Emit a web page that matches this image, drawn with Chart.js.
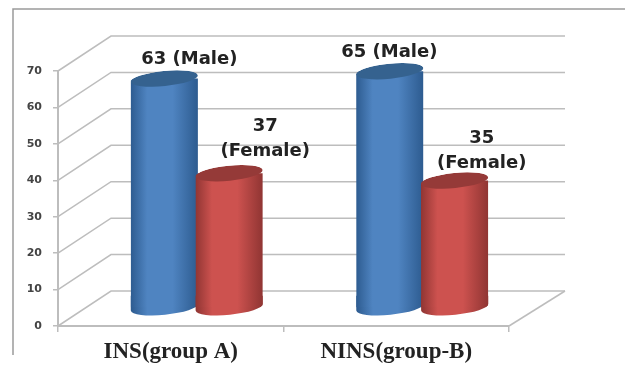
<!DOCTYPE html>
<html>
<head>
<meta charset="utf-8">
<style>
html,body{margin:0;padding:0;background:#fff}
canvas{display:block;filter:blur(0.55px)}
</style>
<script src="https://cdn.jsdelivr.net/npm/chart.js@4/dist/chart.umd.min.js"></script>
</head>
<body>
<canvas id="c" width="625" height="365"></canvas>
<script>
const categories = ["INS(group A)", "NINS(group-B)"];
const maleValues = [63, 65];
const femaleValues = [37, 35];
const maleLabels = [["63 (Male)"], ["65 (Male)"]];
const femaleLabels = [["37", "(Female)"], ["35", "(Female)"]];
const yTicks = [0, 10, 20, 30, 40, 50, 60, 70];

// Depth of the pseudo-3D box and placement of the cylinders inside it
const DEPTH = {dx: 53, dy: -35};
const BAR_SHIFT = {dx: 26, dy: -18};
const BAR_SPACING = 32.4;
const ELLIPSE_RY = 7.5, TILT = -0.1;
const GRID = "#bdbdbd";
// Label anchor offsets from each bar's top, [dataset][category] -> [dx, dy of first line]
const LABEL_OFFSETS = [[[25, -19], [-0.5, -19]], [[36, -47], [27, -42]]];

const shades = {
  male:   {edge: "#2c5a8e", mid: "#4f84c1", top: "#35628f"},
  female: {edge: "#8e3432", mid: "#cd524f", top: "#953a38"}
};

function gradientFor(ctx, left, right, s) {
  const g = ctx.createLinearGradient(left, 0, right, 0);
  g.addColorStop(0, s.edge);
  g.addColorStop(0.25, s.mid);
  g.addColorStop(0.62, s.mid);
  g.addColorStop(1, s.edge);
  return g;
}
function barFill(s, sign) {
  return c => {
    const chart = c.chart;
    if (c.dataIndex === undefined || !chart.scales.x) return s.mid;
    const cx = chart.scales.x.getPixelForValue(c.dataIndex) + sign * BAR_SPACING;
    if (!Number.isFinite(cx)) return s.mid;
    return gradientFor(chart.ctx, cx - BAR_SPACING - 2, cx + BAR_SPACING + 2, s);
  };
}

function drawCylinders(chart, index, s) {
  const ctx = chart.ctx, meta = chart.getDatasetMeta(index);
  ctx.save();
  ctx.translate(BAR_SHIFT.dx, BAR_SHIFT.dy);
  // Clip each bar to its cylinder outline so the corners follow the tilted caps.
  ctx.beginPath();
  meta.data.forEach(el => {
    const rx = el.width / 2;
    ctx.moveTo(el.x - rx, el.y);
    ctx.ellipse(el.x, el.y, rx, ELLIPSE_RY, TILT, Math.PI, Math.PI * 2);
    ctx.ellipse(el.x, el.base, rx, ELLIPSE_RY, TILT, 0, Math.PI);
    ctx.closePath();
  });
  ctx.clip();
  meta.data.forEach(el => {
    const rx = el.width / 2;
    ctx.fillStyle = gradientFor(ctx, el.x - rx, el.x + rx, s);
    ctx.fillRect(el.x - rx - 1, el.base - ELLIPSE_RY - 4, el.width + 2, 2 * ELLIPSE_RY + 8);
  });
  meta.controller.draw();
  meta.data.forEach(el => {
    const rx = el.width / 2;
    ctx.fillStyle = s.top;
    ctx.beginPath();
    ctx.ellipse(el.x, el.y, rx, ELLIPSE_RY, TILT, 0, Math.PI * 2);
    ctx.fill();
  });
  ctx.restore();
}

const boxPlugin = {
  id: "box",
  beforeDraw(chart) {
    const ctx = chart.ctx;
    ctx.save();
    ctx.strokeStyle = "#9a9a9a";
    ctx.lineWidth = 1.5;
    ctx.beginPath();
    ctx.moveTo(13, 355); ctx.lineTo(13, 9); ctx.lineTo(625, 9);
    ctx.stroke();
    ctx.restore();
  },
  beforeDatasetsDraw(chart) {
    const ctx = chart.ctx, y = chart.scales.y, a = chart.chartArea;
    ctx.save();
    ctx.strokeStyle = GRID;
    ctx.lineWidth = 1.5;
    yTicks.forEach(v => {
      const py = y.getPixelForValue(v);
      ctx.beginPath();
      ctx.moveTo(a.left, py);
      ctx.lineTo(a.left + DEPTH.dx, py + DEPTH.dy);
      ctx.lineTo(a.right + DEPTH.dx + 3, py + DEPTH.dy);
      ctx.stroke();
    });
    const py0 = y.getPixelForValue(0);
    ctx.beginPath();
    ctx.moveTo(a.right, py0);
    ctx.lineTo(a.right + DEPTH.dx + 3, py0 + DEPTH.dy);
    ctx.stroke();
    ctx.restore();
  },
  // The cylinders are painted together below so red can overlap blue.
  beforeDatasetDraw() { return false; },
  afterDatasetsDraw(chart) {
    drawCylinders(chart, 0, shades.male);
    drawCylinders(chart, 1, shades.female);
  },
  afterDraw(chart) {
    const ctx = chart.ctx;
    ctx.save();
    ctx.font = "bold 18px 'DejaVu Sans'";
    ctx.fillStyle = "#222";
    ctx.textAlign = "center";
    ctx.textBaseline = "middle";
    [maleLabels, femaleLabels].forEach((labels, d) => {
      chart.getDatasetMeta(d).data.forEach((el, i) => {
        const off = LABEL_OFFSETS[d][i];
        labels[i].forEach((line, k) => {
          ctx.fillText(line, el.x + BAR_SHIFT.dx + off[0],
                       el.y + BAR_SHIFT.dy + off[1] + k * 25);
        });
      });
    });
    ctx.restore();
  }
};

new Chart(document.getElementById("c"), {
  type: "bar",
  data: {
    labels: categories,
    datasets: [
      {label: "Male", data: maleValues, backgroundColor: barFill(shades.male, -1)},
      {label: "Female", data: femaleValues, backgroundColor: barFill(shades.female, 1)}
    ]
  },
  options: {
    responsive: false,
    animation: false,
    events: [],
    layout: {padding: {left: 0, top: 71, right: 116, bottom: 0}},
    plugins: {legend: {display: false}, tooltip: {enabled: false}},
    datasets: {bar: {categoryPercentage: 0.575, barPercentage: 1.04, borderWidth: 0}},
    scales: {
      x: {
        afterFit: s => { s.height = 39; },
        border: {color: GRID, width: 2},
        grid: {drawOnChartArea: false, color: GRID, tickLength: 6, lineWidth: 1.5},
        ticks: {
          color: "#222", padding: 6, maxRotation: 0, autoSkip: false,
          font: {family: "'Liberation Serif'", size: 23, weight: "bold"}
        }
      },
      y: {
        min: 0, max: 70,
        afterFit: s => { s.width = 58; },
        border: {color: GRID, width: 2},
        grid: {drawOnChartArea: false, color: GRID, tickLength: 5, lineWidth: 1.5},
        ticks: {
          stepSize: 10, color: "#444", padding: 11,
          font: {family: "'DejaVu Sans'", size: 11, weight: "bold"}
        }
      }
    }
  },
  plugins: [boxPlugin]
});
</script>
</body>
</html>
